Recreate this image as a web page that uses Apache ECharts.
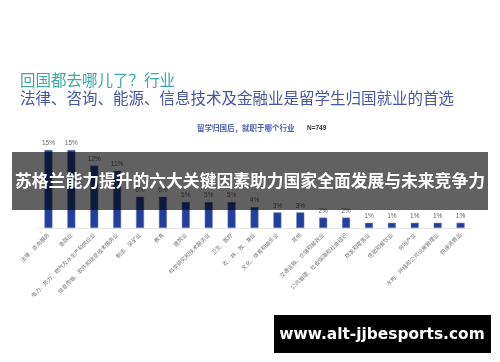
<!DOCTYPE html>
<html><head><meta charset="utf-8">
<script src="https://cdn.jsdelivr.net/npm/echarts@6/dist/echarts.min.js"></script>
<style>html,body{margin:0;padding:0;background:#fff}#c{width:500px;height:362px}</style>
</head><body><div id="c"></div>
<script>
var categories = ['法律、咨询服务','金融业','电力、热力、燃气及水生产和供应业','信息传输、软件和信息技术服务业','制造、采矿业','教育','建筑业','科学研究和技术服务业','卫生、医疗','农、林、牧、渔业','文化、体育和娱乐业','其他','交通运输、仓储和邮政业','公共管理、社会保障和社会组织','批发和零售业','住宿和餐饮业','房地产业','水利、环境和公共设施管理业','快速消费品'];
var values = [15,15,12,11,6,6,5,5,5,4,3,3,2,2,1,1,1,1,1];
var titleLine1 = '回国都去哪儿了？行业';
var titleLine2 = '法律、咨询、能源、信息技术及金融业是留学生归国就业的首选';
var subTitle = '留学归国后，就职于哪个行业';
var sampleNote = 'N=749';
var bannerText = '苏格兰能力提升的六大关键因素助力国家全面发展与未来竞争力';
var watermarkText = 'www.alt-jjbesports.com';

var chart = echarts.init(document.getElementById('c'));
var cjk = '"Noto Sans CJK SC", sans-serif';
chart.setOption({
  animation: false,
  backgroundColor: '#ffffff',
  grid: {left: 37, right: 28, top: 124, bottom: 134, containLabel: false},
  xAxis: {
    type: 'category', data: categories,
    axisLine: {lineStyle: {color: '#e6e6e6', width: 1}},
    axisTick: {show: false},
    axisLabel: {interval: 0, rotate: 45, fontSize: 5.5, color: '#777', fontFamily: cjk, margin: 6}
  },
  yAxis: {type: 'value', min: 0, max: 20, show: false, splitLine: {show: false}},
  series: [{
    type: 'bar', data: values, barWidth: 8,
    itemStyle: {color: '#233f9c', borderColor: '#6f82c4', borderWidth: 0.5},
    label: {show: true, position: 'top', formatter: '{c}%', fontSize: 6.5, color: '#666', distance: 3, fontFamily: 'Liberation Sans, sans-serif'}
  }],
  graphic: [
    {type: 'text', left: 20, top: 72, style: {text: titleLine1, font: '15.5px ' + cjk, fill: '#3aa8a3'}},
    {type: 'text', left: 20, top: 90, style: {text: titleLine2, font: '15.5px ' + cjk, fill: '#4556a6'}},
    {type: 'text', left: 197, top: 124, style: {text: subTitle, font: 'bold 7.5px ' + cjk, fill: '#4b5fb0'}},
    {type: 'text', left: 307, top: 125, style: {text: sampleNote, font: 'bold 6.5px "Liberation Sans", sans-serif', fill: '#333'}},
    {type: 'rect', shape: {x: 12, y: 152, width: 476, height: 58}, style: {fill: 'rgba(0,0,0,0.62)'}, z: 100},
    {type: 'text', x: 250, y: 181, z: 101, style: {text: bannerText, font: 'bold 16.8px ' + cjk, fill: '#ffffff', textAlign: 'center', textVerticalAlign: 'middle'}},
    {type: 'rect', shape: {x: 274, y: 315, width: 217, height: 38}, style: {fill: '#000000'}, z: 100},
    {type: 'text', x: 382, y: 335, z: 101, style: {text: watermarkText, font: 'bold 15.4px "DejaVu Sans", sans-serif', fill: '#ffffff', textAlign: 'center', textVerticalAlign: 'middle'}}
  ]
});
</script></body></html>
